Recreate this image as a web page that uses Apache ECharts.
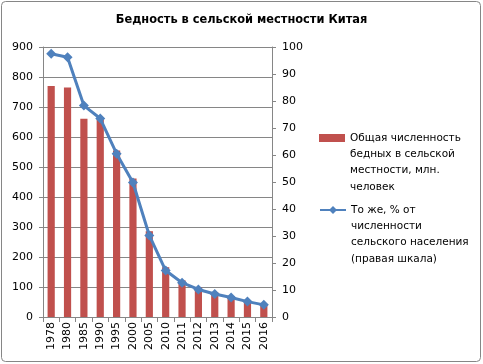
<!DOCTYPE html>
<html><head><meta charset="utf-8">
<script src="https://cdn.jsdelivr.net/npm/echarts@6/dist/echarts.min.js"></script>
<style>html,body{margin:0;padding:0;background:#fff}#c{width:483px;height:364px}</style>
</head><body><div id="c"></div>
<script>
const years = ['1978','1980','1985','1990','1995','2000','2005','2010','2011','2012','2013','2014','2015','2016'];
const poorMillions = [770, 765, 661, 658, 555, 462, 286, 166, 122, 99, 82, 70, 56, 43];
const poorPercent = [97.5, 96.2, 78.3, 73.5, 60.5, 49.8, 30.2, 17.2, 12.7, 10.2, 8.5, 7.2, 5.7, 4.5];
const leftTicks = [0, 900, 100];
const rightTicks = [0, 100, 10];
const name1 = 'Общая численность\nбедных в сельской\nместности, млн.\nчеловек';
const name2 = 'То же, % от\nчисленности\nсельского населения\n(правая шкала)';

const font = 'DejaVu Sans';
const chart = echarts.init(document.getElementById('c'), null, {renderer: 'canvas'});
const LH = 16.3;
const legendText = {fontFamily: font, fontSize: 10.5, color: '#000', lineHeight: LH};
chart.setOption({
  animation: false,
  backgroundColor: '#fff',
  title: {text: 'Бедность в сельской местности Китая', left: 'center', top: 10,
    textStyle: {fontFamily: font, fontSize: 11.4, fontWeight: 'bold', color: '#000'}},
  graphic: [{type: 'rect', shape: {x: 1.5, y: 1.5, width: 479, height: 360, r: 4},
    style: {fill: 'none', stroke: '#868686', lineWidth: 1}, silent: true}],
  grid: {left: 43, right: 211, top: 47, bottom: 47},
  legend: [
    {orient: 'vertical', left: 319, top: 138 - 3.5 * LH, data: [name1], itemWidth: 26, itemHeight: 8, itemGap: 0,
      icon: 'rect', textStyle: legendText, padding: 0,
      formatter: n => '\n\n\n' + n},
    {orient: 'vertical', left: 319, top: 210 - 3.5 * LH, data: [name2], itemWidth: 26, itemHeight: 10, itemGap: 0,
      textStyle: legendText, padding: 0,
      formatter: n => '\n\n\n' + n}
  ],
  xAxis: {type: 'category', data: years,
    axisLine: {lineStyle: {color: '#868686'}},
    axisTick: {show: true, length: 5, lineStyle: {color: '#868686'}},
    axisLabel: {rotate: 90, fontFamily: font, fontSize: 11, color: '#000', margin: 5, interval: 0}},
  yAxis: [
    {type: 'value', min: leftTicks[0], max: leftTicks[1], interval: leftTicks[2],
      axisLine: {show: true, lineStyle: {color: '#868686'}},
      axisTick: {show: true, length: 4, lineStyle: {color: '#868686'}},
      splitLine: {lineStyle: {color: '#868686'}},
      axisLabel: {fontFamily: font, fontSize: 11, color: '#000', margin: 10}},
    {type: 'value', min: rightTicks[0], max: rightTicks[1], interval: rightTicks[2],
      axisLine: {show: true, lineStyle: {color: '#868686'}},
      axisTick: {show: true, length: 4, lineStyle: {color: '#868686'}},
      splitLine: {show: false},
      axisLabel: {fontFamily: font, fontSize: 11, color: '#000', margin: 10}}
  ],
  series: [
    {name: name1, type: 'bar', data: poorMillions, barWidth: '44%', yAxisIndex: 0,
      itemStyle: {color: '#C0504D'}},
    {name: name2, type: 'line', data: poorPercent, yAxisIndex: 1,
      symbol: 'diamond', symbolSize: 10, lineStyle: {color: '#4F81BD', width: 3},
      itemStyle: {color: '#4F81BD'}}
  ]
});
</script></body></html>
